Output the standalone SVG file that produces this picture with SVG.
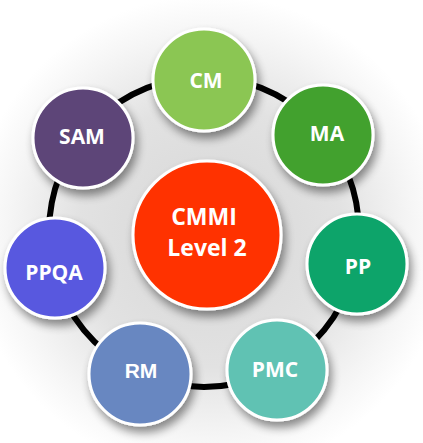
<svg xmlns="http://www.w3.org/2000/svg" width="423" height="443" viewBox="0 0 423 443">
  <defs>
    <radialGradient id="bg" cx="210" cy="235" r="240" gradientUnits="userSpaceOnUse">
      <stop offset="0" stop-color="#d6d6d6"/>
      <stop offset="0.55" stop-color="#e2e2e2"/>
      <stop offset="0.85" stop-color="#f6f6f6"/>
      <stop offset="1" stop-color="#ffffff"/>
    </radialGradient>
    <filter id="shadow" x="-30%" y="-30%" width="170%" height="170%">
      <feGaussianBlur in="SourceAlpha" stdDeviation="5"/>
      <feOffset dx="3" dy="6" result="b"/>
      <feComponentTransfer><feFuncA type="linear" slope="0.45"/></feComponentTransfer>
      <feMerge><feMergeNode/><feMergeNode in="SourceGraphic"/></feMerge>
    </filter>
  </defs>
  <style>
    .node circle { stroke: #ffffff; stroke-width: 3; filter: url(#shadow); }
    .node text { fill: #ffffff; font-family: "Open Sans", "Noto Sans", "Liberation Sans", sans-serif; font-weight: bold; font-size: 21px; text-anchor: middle; }
    .node text.big { font-size: 23px; }
    .node text.arial { font-family: "Liberation Sans", Arial, sans-serif; }
    .ring { fill: none; stroke: #000000; stroke-width: 6; }
  </style>
  <rect width="423" height="443" fill="url(#bg)"/>
  <g id="connectors">
    <circle class="ring" cx="204" cy="232" r="155"/>
  </g>
  <g id="center" class="node">
    <circle cx="207" cy="235" r="74" fill="#ff3300"/>
    <text class="big" x="204" y="225">CMMI</text>
    <text class="big" x="207" y="256">Level 2</text>
  </g>
  <g id="CM" class="node">
    <circle cx="204" cy="80" r="51" fill="#8bc652"/>
    <text x="206" y="88">CM</text>
  </g>
  <g id="MA" class="node">
    <circle cx="323" cy="135" r="50" fill="#43a12e"/>
    <text x="327" y="141">MA</text>
  </g>
  <g id="PP" class="node">
    <circle cx="357" cy="264" r="50" fill="#0ca46b"/>
    <text x="358" y="274">PP</text>
  </g>
  <g id="PMC" class="node">
    <circle cx="277" cy="370" r="50" fill="#61c2b3"/>
    <text x="275" y="377">PMC</text>
  </g>
  <g id="RM" class="node">
    <circle cx="140" cy="374" r="51" fill="#6787c1"/>
    <text class="arial" x="141" y="378">RM</text>
  </g>
  <g id="PPQA" class="node">
    <circle cx="55" cy="268" r="50" fill="#5859df"/>
    <text x="54" y="280">PPQA</text>
  </g>
  <g id="SAM" class="node">
    <circle cx="83" cy="138" r="50" fill="#5d4478"/>
    <text x="82" y="144">SAM</text>
  </g>
</svg>
